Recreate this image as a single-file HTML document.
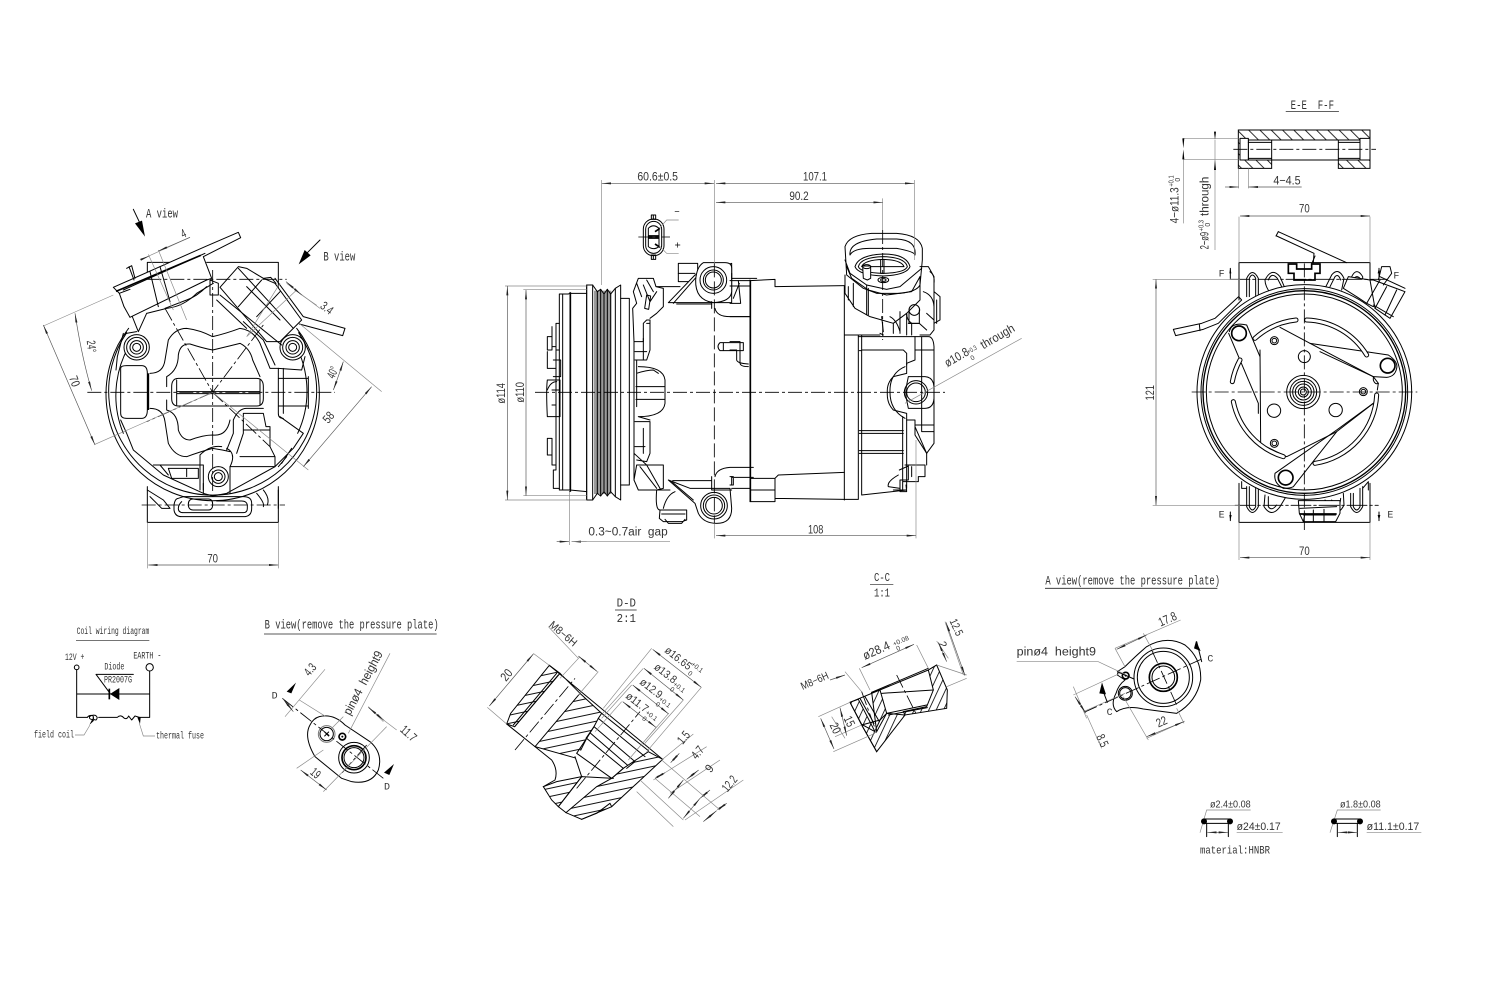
<!DOCTYPE html>
<html><head><meta charset="utf-8"><style>
html,body{margin:0;padding:0;background:#fff}
svg{display:block}
.m{fill:none;stroke:#000;stroke-width:3;stroke-linejoin:round;stroke-linecap:round}
.h{fill:none;stroke:#000;stroke-width:5}
.t{fill:none;stroke:#222;stroke-width:2}
.w{fill:#fff;stroke:#000;stroke-width:3;stroke-linejoin:round}
.d{fill:none;stroke:#888;stroke-width:2}
.da{fill:none;stroke:#555;stroke-width:2;marker-start:url(#a);marker-end:url(#a)}
.ar{fill:none;stroke:#555;stroke-width:2;marker-end:url(#a)}
.c{fill:none;stroke:#000;stroke-width:2.5;stroke-dasharray:42 9 9 9}
.b{fill:#000;stroke:none}
text{fill:#333;font-family:"Liberation Sans",sans-serif;font-size:37px;white-space:pre}
.s{font-family:"Liberation Mono","Noto Serif CJK SC",monospace;font-size:40px}
</style></head><body>
<svg width="1500" height="990" viewBox="0 0 1500 990" xmlns="http://www.w3.org/2000/svg">
<defs>
<marker id="a" markerUnits="userSpaceOnUse" markerWidth="30" markerHeight="12" refX="28" refY="5" orient="auto-start-reverse"><path d="M0 2L28 5L0 8Z" fill="#222"/></marker>
<pattern id="hA" width="24" height="24" patternUnits="userSpaceOnUse" patternTransform="rotate(-12)"><rect width="24" height="3" fill="#111"/></pattern>
<pattern id="hC" width="20" height="20" patternUnits="userSpaceOnUse" patternTransform="rotate(25)"><rect width="2.6" height="20" fill="#111"/></pattern>
<pattern id="hD" width="24" height="24" patternUnits="userSpaceOnUse" patternTransform="rotate(-45)"><rect width="2.6" height="24" fill="#111"/></pattern>
</defs>

<!-- LEFT VIEW -->
<g transform="translate(30 200) scale(.33333)">
<path class="m" d="M352 187V245M352 860V967H745V860M745 187V270M530 187H745M352 187H430"/>
<path class="m" d="M800 385A320 320 0 1 1 296 385M806 398A312 312 0 1 1 290 398M785 415A298 298 0 0 1 803 700M312 415A298 298 0 0 0 280 700"/>
<path class="m" d="M280 400L262 470L258 510M272 660L290 700L310 750L400 825L520 880L548 888L590 880L735 800L790 745L820 700L750 650M745 505L815 510L825 470"/>
<path class="m" d="M272 505Q272 497 290 497H335Q352 497 352 520V630Q352 655 335 655H290Q272 655 272 640Z"/>
<path class="h" d="M355 520V630"/>
<path class="m" d="M745 505V640Q745 655 760 655M760 505V640M745 535H835M745 618H835M835 530V625"/>
<path class="m" d="M425 560Q425 535 445 535H680Q700 535 700 560V595Q700 618 680 618H445Q425 618 425 595Z"/>
<path class="m" d="M440 575H690M440 581H690M440 540V615M690 540V615"/>
<path class="m" d="M360 520Q400 520 405 480L415 420Q435 385 470 385Q510 390 548 410Q590 400 630 385Q670 390 690 430L720 505H745"/>
<path class="m" d="M410 560V530Q445 510 445 465Q450 430 480 432Q520 445 548 450Q590 440 630 430Q660 445 668 480L690 530"/>
<path class="m" d="M360 625Q400 625 405 665L415 730Q435 770 470 770Q510 755 548 745Q580 750 600 755"/>
<path class="m" d="M410 600V630Q445 640 445 690Q455 720 480 720Q520 705 548 705Q590 710 600 660"/>
<path class="m" d="M640 640H700L708 680H720V740L735 770V800M640 640V700L620 760M610 660Q625 625 650 625H700M610 660V700L590 750M640 690H720M630 770H735"/>
<path class="m" d="M370 795H520V870M600 800H735M510 765V870M600 800Q620 760 590 745M510 765Q540 735 575 740"/>
<path class="m" d="M415 805H505V835H425ZM470 805V830M390 795L415 825"/>
<circle class="w" cx="565" cy="830" r="30"/><circle class="m" cx="565" cy="830" r="20"/><circle class="m" cx="565" cy="830" r="12"/>
<path class="m" d="M520 880V850M600 880V800"/>
<path class="m" d="M445 895Q435 895 432 915V930Q435 950 455 950H640Q665 950 665 925V910Q665 890 640 890H460Z"/>
<path class="m" d="M455 905Q445 915 445 925Q445 938 460 938H640Q652 938 652 925V915Q650 903 635 903H560"/>
<path class="m" d="M490 897H535Q548 897 548 913Q548 930 535 930H490Q475 930 475 913Q475 897 490 897Z"/>
<path class="m" d="M352 870L400 900L420 925L395 925L360 890M680 880Q705 910 700 920M700 870Q720 895 712 915M745 870V925"/>
<path class="m" d="M770 770L745 800M785 745L755 790"/>
<circle class="w" cx="320" cy="442" r="38"/><circle class="m" cx="320" cy="442" r="30"/><circle class="m" cx="320" cy="442" r="20"/><circle class="m" cx="320" cy="442" r="12"/>
<circle class="w" cx="788" cy="442" r="38"/><circle class="m" cx="788" cy="442" r="30"/><circle class="m" cx="788" cy="442" r="20"/><circle class="m" cx="788" cy="442" r="12"/>
<path class="m" d="M320 395L290 400M350 340L325 395L305 345M350 340L410 325Q460 320 500 280L550 250"/>
<path class="m" d="M405 325L470 300Q500 290 530 260"/>
<!-- connector A -->
<path class="w" d="M250 262L525 140L625 97L632 113L520 170L545 235L530 240L300 352L282 320L268 280Z"/>
<path class="h" d="M258 274L512 166"/><path class="m" d="M280 270L525 160M268 280L300 268M360 215L385 320M390 200L420 305"/>
<path class="m" d="M297 200L312 240M290 205L305 197L315 235"/>
<path class="m" d="M540 240V285H565V250Z"/>
<!-- connector B -->
<path class="w" d="M570 262L625 200L650 205L700 235L735 250L815 360L750 425L710 425Z"/>
<path class="m" d="M735 235L820 350L945 385L938 407L808 372M625 205L790 385M650 260L750 360M570 285L755 435M640 365L700 420L735 495M560 300L650 385M700 235L722 232L738 250"/>
<path class="m" d="M625 320L695 240M680 350L750 275"/>
<!-- center lines -->
<path class="c" d="M172 577H915M548 210V880M352 238H770M335 915H765M405 325L548 577L700 375M548 577L350 665M548 577L720 740"/>
<path class="d" d="M352 967V1105M745 967V1105M40 378L250 285M195 733L548 577M810 372L1055 575M548 577L835 810M330 180L480 112M355 163L430 330M385 150L470 360M770 250L870 325M800 270L650 410M650 410L750 250"/>
<path class="da" d="M355 1095H745"/><path class="da" d="M1025 560L820 800"/><path class="da" d="M40 375L195 735"/>
<path class="da" d="M135 340Q155 470 185 572"/><path class="da" d="M940 485Q925 530 910 570"/>
<path class="ar" d="M330 180L358 168"/><path class="ar" d="M480 112L385 153"/>
<path class="da" d="M768 245L815 285"/><path class="d" d="M815 285L860 316"/>
<text x="548" y="1088" text-anchor="middle" textLength="32" lengthAdjust="spacingAndGlyphs">70</text>
<text transform="translate(905 660) rotate(-50)" text-anchor="middle" textLength="32" lengthAdjust="spacingAndGlyphs">58</text>
<text transform="translate(122 548) rotate(70)" text-anchor="middle" textLength="32" lengthAdjust="spacingAndGlyphs">70</text>
<text transform="translate(172 440) rotate(85)" text-anchor="middle" textLength="36" lengthAdjust="spacingAndGlyphs">24°</text>
<text transform="translate(912 538) rotate(-65)" textLength="34" lengthAdjust="spacingAndGlyphs">40°</text>
<text transform="translate(465 112) rotate(-24)" text-anchor="middle" textLength="14" lengthAdjust="spacingAndGlyphs">4</text>
<text transform="translate(868 322) rotate(38)" textLength="38" lengthAdjust="spacingAndGlyphs">3.4</text>
<path class="m" d="M310 28L330 70"/><path class="b" d="M315 70L336 62L345 110Z"/>
<path class="m" d="M870 120L832 158"/><path class="b" d="M806 193L824 150L842 166Z"/>
<text class="s" x="348" y="52" textLength="96" lengthAdjust="spacingAndGlyphs">A view</text>
<text class="s" x="880" y="182" textLength="96" lengthAdjust="spacingAndGlyphs">B view</text>
</g>

<!-- SIDE VIEW -->
<g transform="translate(490 160) scale(.33333)">
<!-- pulley -->
<rect x="312" y="392" width="52" height="610" fill="#9a9a9a"/>
<path class="m" d="M290 375H308L322 395L332 388L342 402L352 388L362 402L376 385L392 375V1020L376 1010L362 995L352 1008L342 995L332 1008L322 1000L308 1020H290Z"/>
<path class="m" d="M290 375V1020M308 375V1020M322 395V1000M332 388V1008M342 400V995M352 388V1008M362 400V995M376 385V1010"/>
<path class="m" d="M392 415H418V975H392M418 425V970M432 545V960"/>
<path class="m" d="M290 400H240L235 402H208V990H240L290 995"/>
<path class="m" d="M218 402V990M240 397V995"/><path class="h" d="M241 397V995"/>
<path class="m" d="M208 490H198V570H208M198 490V930H190V985H208M186 500V560H198M172 530V570H186V530ZM172 575V625H198V575M190 600H212V650H190M172 660H210V770H172Q168 690 172 660ZM172 835H186V885H172ZM186 690H208M186 735H198"/>
<path class="m" d="M172 690Q182 665 200 665M186 880V915H198"/>
<!-- front housing left -->
<path class="m" d="M432 545H460V490L470 480H480V490L470 490M432 545L428 445L440 430L430 395L445 355H490L498 380L520 385V440L500 460L480 475M460 375L480 425L500 395"/>
<path class="m" d="M464 445L470 405L482 408L476 448Z"/><path class="m" d="M500 380H570"/>
<path class="m" d="M440 370L455 410M470 360L490 395"/>
<path class="m" d="M480 490V570L470 600L435 600M460 535V600M435 575H470M440 600V740M445 620Q520 620 525 660V730Q520 770 445 770M440 640Q470 630 490 630L505 640M438 680H525M438 718H525M445 770L480 780M435 785H480V815M480 785V880L470 905L440 900M460 805V880M435 860H465M432 880L470 915"/>
<path class="m" d="M432 960L440 915L470 915H520V985L500 990L445 990ZM450 920L500 985M470 915L510 985"/>
<!-- bottom pipe -->
<path class="m" d="M500 990Q495 1050 510 1050M520 1045Q530 1005 555 995M510 1050H590V1080L575 1085H520L508 1075ZM525 1078L535 1090H575L585 1078M515 1062H585"/>
<!-- top bracket / ear -->
<rect class="w" x="565" y="310" width="58" height="55"/>
<path class="m" d="M565 340H615"/>
<path class="w" d="M535 428L615 345L725 310V428H600Z"/>
<path class="m" d="M550 430L620 350M560 432H665"/>
<path class="w" d="M640 308H705Q725 308 725 325V395Q722 425 670 428Q615 420 617 360Q620 320 640 308Z"/>
<circle class="m" cx="670" cy="360" r="40"/><circle class="m" cx="670" cy="360" r="30"/><circle class="m" cx="670" cy="360" r="24"/>
<path class="m" d="M725 355H800M665 425V445M675 445Q680 470 720 470H780M725 340V358M745 362L752 430H720M748 370L730 415"/>
<!-- bottom ear -->
<path class="w" d="M535 960L615 1030L625 1060Q640 1090 680 1090Q725 1090 725 1045L720 985H600Z"/>
<circle class="m" cx="672" cy="1037" r="40"/><circle class="m" cx="672" cy="1037" r="32"/><circle class="m" cx="672" cy="1037" r="25"/>
<path class="m" d="M548 962H665V990H725M665 950V990M675 950Q680 925 720 922H790M725 952H790M725 985H780M545 965L610 1020M500 990H540M725 950V975"/>
<path class="m" d="M690 548H760V572H690Q678 560 690 548ZM700 548V572"/>
<g transform="translate(720 0)">
<path class="m" d="M0 362H60M60 360V1025M60 362L135 358V380M135 380L345 377M0 378H60M0 470H60"/>
<path class="h" d="M61 360V1025"/>
<path class="m" d="M0 545H30V610Q32 620 55 620M0 570H20V600Q22 610 55 612M60 1025H135V955L145 945L343 937M135 1025V1015L343 1018M60 955H135M60 990H135M10 955V975H0M0 950H10"/>
<path class="m" d="M343 378V1020M343 525H450M385 525V1018M343 1018H385"/>
<path class="m" d="M395 525V570H520L530 580V615M395 570V1005L530 990M388 572H395M388 812H520M388 872H520M388 820H520M388 880H520"/>
<path class="m" d="M385 530H555V600L530 610V640L490 650Q470 670 472 697Q470 730 490 750L530 760V780H555V800L590 880V915"/>
<path class="m" d="M525 620Q478 640 480 697Q480 750 525 775M518 770V990M530 780V985"/>
<path class="w" d="M535 650H585Q610 652 612 680V715Q610 745 585 745H535L530 720Q525 697 530 675Z"/>
<circle class="m" cx="558" cy="697" r="35"/><circle class="m" cx="558" cy="697" r="28"/>
<path class="m" d="M555 530H595Q610 530 612 560V850L590 880M555 570H612M575 530V815H612M555 795H612M555 825L590 880M555 800L555 825"/>
<path class="m" d="M525 915H585V950H565V965H520M508 930L535 918V960H510M505 945Q470 965 475 980L510 985M510 960V995H530L528 975M490 990H530M545 920V950"/>
<!-- top connector -->
<path class="w" d="M345 260Q355 225 425 220H500Q570 225 577 265V300L570 375Q560 395 510 400H440L400 385L350 345Z"/>
<path class="m" d="M360 285Q355 245 440 237H500Q560 240 555 285Q555 275 500 265H420Q370 265 360 285"/>
<path class="m" d="M375 320Q385 285 460 282Q530 282 540 320Q530 345 460 348Q385 345 375 320Z"/>
<path class="m" d="M385 320Q392 292 460 290Q525 292 532 320Q525 338 460 340Q392 338 385 320Z"/>
<path class="m" d="M395 320Q402 300 460 298Q515 300 522 320H395M452 300V340H462V300"/>
<path class="w" d="M398 318H422V355L412 360L400 355Z"/><ellipse class="m" cx="410" cy="320" rx="12" ry="6"/>
<ellipse class="m" cx="460" cy="360" rx="16" ry="8"/><ellipse class="m" cx="460" cy="360" rx="8" ry="4"/>
<path class="m" d="M345 300L360 340L410 375L470 388L510 380L575 325M350 320L365 355L415 390L470 405L545 395L570 350"/>
<path class="m" d="M345 345L345 400L375 445L420 470L490 490L530 460L570 420V350M355 380V420M370 370V440M410 375V465M415 385V465M490 490V520M530 460V525"/>
<path class="m" d="M570 320H595L612 350V510L600 525L570 525M600 335Q615 345 612 370M580 395Q610 405 612 440M612 395L630 410V480L612 490M590 460L612 480M545 525V490Q530 480 530 460M620 420V490"/>
<path class="m" d="M455 470L460 515M480 470Q500 480 510 515M510 455V520"/>
<circle class="m" cx="553" cy="450" r="16"/><path class="m" d="M537 450V490H568V450"/>
<path class="m" d="M535 490H568L590 510M450 520L460 525"/>
<path class="d" d="M458 115V210"/><path class="c" d="M458 210V540"/>
<path class="d" d="M553 60V300M558 840V1135"/>
<path class="d" d="M525 730L875 535"/>
<path class="ar" d="M0 70H553"/><path class="ar" d="M0 127H458"/><path class="ar" d="M0 1127H558"/>
<text x="255" y="62" text-anchor="middle" textLength="72" lengthAdjust="spacingAndGlyphs">107.1</text>
<text x="207" y="120" text-anchor="middle" textLength="58" lengthAdjust="spacingAndGlyphs">90.2</text>
<text x="257" y="1120" text-anchor="middle" textLength="46" lengthAdjust="spacingAndGlyphs">108</text>
<text transform="translate(652 622) rotate(-30)" textLength="78" lengthAdjust="spacingAndGlyphs">ø10.8</text>
<text transform="translate(716 582) rotate(-30)" style="font-size:20px" textLength="30" lengthAdjust="spacingAndGlyphs">+0.3</text>
<text transform="translate(726 602) rotate(-30)" style="font-size:20px">0</text>
<text transform="translate(760 568) rotate(-30)" textLength="112" lengthAdjust="spacingAndGlyphs">through</text>
</g>
<path class="c" d="M135 697H1365"/>
<path class="d" d="M673 60V310M673 1090V1135"/><path class="c" d="M673 310V1090" style="stroke-dasharray:42 12"/>
<path class="d" d="M335 60V375"/><path class="d" d="M45 378H290M45 1020H290M100 388H290M100 1007H290M238 990V1155"/>
<path class="da" d="M335 70H672"/><path class="ar" d="M720 70H678"/><path class="ar" d="M720 127H678"/><path class="ar" d="M720 1127H678"/>
<path class="da" d="M52 378V1020"/><path class="da" d="M108 390V1007"/>
<path class="ar" d="M200 1145H237"/><path class="ar" d="M290 1145H245"/><path class="d" d="M245 1145H540"/>
<text x="503" y="62" text-anchor="middle" textLength="122" lengthAdjust="spacingAndGlyphs">60.6±0.5</text>
<text x="295" y="1127" textLength="238" lengthAdjust="spacingAndGlyphs">0.3~0.7air  gap</text>
<text transform="translate(45 700) rotate(-90)" text-anchor="middle" textLength="62" lengthAdjust="spacingAndGlyphs">ø114</text>
<text transform="translate(102 697) rotate(-90)" text-anchor="middle" textLength="62" lengthAdjust="spacingAndGlyphs">ø110</text>
<!-- small connector -->
<path class="m" d="M490 165V178M490 285V298M484 165H497V178H484ZM484 285H497V298H484Z"/>
<rect class="m" x="460" y="177" width="62" height="110" rx="30"/><rect class="m" x="467" y="184" width="48" height="96" rx="24"/>
<path class="m" d="M475 205V260Q490 272 507 260V205Q490 190 475 205Z"/>
<path class="h" d="M474 228H508M474 234H508"/><path class="h" d="M495 215L510 205M495 252L510 262"/>
<path class="c" d="M445 231H540"/>
<path class="d" d="M508 205L530 180H566M508 258L530 280H566"/>
<path class="m" d="M555 155H567M556 255H570M563 248V262" style="stroke-width:2"/>
</g>

<!-- RIGHT VIEW -->
<g transform="translate(1140 90) scale(.33333)">
<!-- section E-E -->
<path d="M295 120H690V235H595V210H660V150H325V210H395V235H295Z" fill="url(#hD)" stroke="#000" stroke-width="3"/>
<rect class="w" x="300" y="145" width="25" height="65"/><rect class="w" x="660" y="145" width="30" height="65"/>
<path class="m" d="M395 150V210M595 150V210M395 210H595M395 150H595M325 157H395M595 157H660M325 205H395M595 205H660"/>
<path class="c" d="M280 178H708"/>
<path class="d" d="M130 145H295M130 208H295M225 150V480M296 235V295M325 235V295M130 208V400"/>
<path class="b" d="M127 145L133 145L130 175ZM127 208L133 208L130 178Z"/>
<path class="b" d="M222 125L228 125L225 150ZM222 240L228 240L225 210Z"/>
<path class="ar" d="M255 291H296"/><path class="ar" d="M485 291H326"/>
<text x="400" y="284" textLength="82" lengthAdjust="spacingAndGlyphs">4−4.5</text>
<text transform="translate(116 400) rotate(-90)" textLength="108" lengthAdjust="spacingAndGlyphs">4−ø11.3</text>
<text transform="translate(100 290) rotate(-90)" style="font-size:21px" textLength="34" lengthAdjust="spacingAndGlyphs">+0.1</text>
<text transform="translate(120 275) rotate(-90)" style="font-size:21px">0</text>
<text transform="translate(206 478) rotate(-90)" textLength="52" lengthAdjust="spacingAndGlyphs">2−ø9</text>
<text transform="translate(190 424) rotate(-90)" style="font-size:21px" textLength="34" lengthAdjust="spacingAndGlyphs">+0.3</text>
<text transform="translate(210 410) rotate(-90)" style="font-size:21px">0</text>
<text transform="translate(206 378) rotate(-90)" textLength="118" lengthAdjust="spacingAndGlyphs">through</text>
<text class="s" x="452" y="57" textLength="130" lengthAdjust="spacingAndGlyphs">E-E  F-F</text>
<path class="m" d="M438 64H596" style="stroke-width:2"/>
<!-- lugs -->
<path class="m" d="M297 630V518H690V600M297 1180V1297H690V1180"/>
<g class="m">
<path d="M320 620V565Q337 530 355 565V620M328 620V565Q337 545 347 565V620"/>
<path d="M375 570Q395 530 420 560L435 595L395 615Q375 590 375 570ZM385 570Q395 545 412 565L425 590"/>
<path d="M555 595L575 555Q595 530 612 565L605 600M570 590L585 560Q595 550 602 570"/>
<path d="M635 590V560Q650 530 668 560V590M643 590V565Q650 555 660 565V590"/>
<path d="M320 1190V1250Q337 1285 355 1250V1190M328 1190V1250Q337 1270 347 1250V1190M305 1175V1195H320"/>
<path d="M375 1215L372 1250Q395 1285 420 1250L435 1225M385 1220L385 1250Q395 1265 410 1245"/>
<path d="M555 1230L575 1255Q595 1280 612 1245L610 1210M575 1230L590 1250Q600 1250 602 1225"/>
<path d="M632 1210V1250Q650 1285 668 1250V1190M640 1210V1250Q650 1270 660 1250V1195M668 1195L685 1175V1200"/>
</g>
<path class="h" d="M445 522H470V537H515V522H540V550H525V570H462V550H445Z"/>
<path class="m" d="M515 522L525 498"/>
<circle class="w" cx="493" cy="906" r="322"/>
<circle class="m" cx="493" cy="906" r="310"/><circle class="m" cx="493" cy="906" r="304" style="stroke-width:4"/><circle class="m" cx="493" cy="906" r="294"/>
<!-- tab left -->
<path class="m" d="M100 718L185 700L225 685L296 620L305 630L235 700L190 718L107 737Z"/>
<path class="m" d="M178 703L180 722"/>
<!-- tab top -->
<path class="m" d="M415 425L620 518M410 438L522 490L520 518"/>
<path class="m" d="M415 425L408 438"/>
<!-- connector right -->
<path class="w" d="M625 560L690 570L725 590L745 610L700 650L680 640L650 620L610 595Z"/>
<path class="w" d="M690 570L700 570L795 605L750 685L705 655Z"/>
<path class="m" d="M715 570L725 530L750 530L755 550L730 585M720 560L795 595M700 645L760 680M740 590L705 655M770 600L735 675M680 640L720 570"/>
<!-- plate -->
<path class="m" d="M420 712L510 760L700 860L715 880L712 900M700 940L590 1025L440 1100L362 1062L360 780"/>
<path class="m" d="M700 860V870Q705 885 715 880"/>
<path class="m" d="M266 730L355 940V970M320 705L360 800M268 725Q275 695 320 705"/>
<circle class="h" cx="297" cy="730" r="22" style="fill:#fff"/>
<path class="m" d="M510 760L745 795Q775 815 770 835Q765 860 740 862L700 860L540 785"/>
<circle class="h" cx="743" cy="827" r="22" style="fill:#fff"/>
<path class="m" d="M405 1150L590 1020L700 940M405 1150Q400 1180 430 1195Q450 1195 460 1190L590 1025"/>
<circle class="h" cx="437" cy="1163" r="22" style="fill:#fff"/>
<path d="M500 690A218 218 0 0 1 680 795" fill="none" stroke="#000" stroke-width="15" stroke-linecap="round"/><path d="M500 690A218 218 0 0 1 680 795" fill="none" stroke="#fff" stroke-width="9" stroke-linecap="round"/>
<path d="M468 690A218 218 0 0 0 345 745" fill="none" stroke="#000" stroke-width="15" stroke-linecap="round"/><path d="M468 690A218 218 0 0 0 345 745" fill="none" stroke="#fff" stroke-width="9" stroke-linecap="round"/>
<path d="M300 810A218 218 0 0 0 277 875" fill="none" stroke="#000" stroke-width="15" stroke-linecap="round"/><path d="M300 810A218 218 0 0 0 277 875" fill="none" stroke="#fff" stroke-width="9" stroke-linecap="round"/>
<path d="M280 935A218 218 0 0 0 430 1100" fill="none" stroke="#000" stroke-width="15" stroke-linecap="round"/><path d="M280 935A218 218 0 0 0 430 1100" fill="none" stroke="#fff" stroke-width="9" stroke-linecap="round"/>
<path d="M525 1120A218 218 0 0 0 710 915" fill="none" stroke="#000" stroke-width="15" stroke-linecap="round"/><path d="M525 1120A218 218 0 0 0 710 915" fill="none" stroke="#fff" stroke-width="9" stroke-linecap="round"/>
<circle class="m" cx="493" cy="800" r="18"/><circle class="m" cx="402" cy="962" r="20"/><circle class="m" cx="587" cy="960" r="20"/>
<g class="m"><circle cx="403" cy="752" r="12"/><circle cx="403" cy="752" r="7"/><circle cx="403" cy="1060" r="12"/><circle cx="403" cy="1060" r="7"/><circle cx="670" cy="905" r="12"/><circle cx="670" cy="905" r="7"/>
<circle cx="490" cy="906" r="50"/><circle cx="490" cy="906" r="40"/><circle cx="490" cy="906" r="24"/><circle cx="490" cy="906" r="15"/><circle cx="490" cy="906" r="9"/><circle cx="490" cy="906" r="32"/></g>
<!-- bottom hex -->
<path class="w" d="M475 1232H600V1270L587 1295H490L478 1270Z" style="fill:#fff"/>
<path class="m" d="M480 1255L590 1250M490 1275H587M520 1260V1295M552 1258V1295M490 1295L495 1270"/>
<path class="h" d="M478 1272H590"/>
<path class="c" d="M155 906H832M493 520V1320"/>
<path class="m" d="M270 568H740M285 1246H715" style="stroke-width:2.5;stroke-dasharray:60 8 8 8"/>
<path class="d" d="M38 568H300M38 1246H300M297 1297V1410M690 1297V1410M297 518V380M690 518V380"/>
<path class="da" d="M48 568V1246"/><path class="da" d="M300 378H690"/><path class="da" d="M300 1403H690"/>
<text transform="translate(42 908) rotate(-90)" text-anchor="middle" textLength="46" lengthAdjust="spacingAndGlyphs">121</text>
<text x="493" y="368" text-anchor="middle" textLength="32" lengthAdjust="spacingAndGlyphs">70</text>
<text x="493" y="1395" text-anchor="middle" textLength="32" lengthAdjust="spacingAndGlyphs">70</text>
<text class="s" x="236" y="560" style="font-size:30px">F</text><text class="s" x="760" y="565" style="font-size:30px">F</text>
<text class="s" x="236" y="1282" style="font-size:30px">E</text><text class="s" x="742" y="1282" style="font-size:30px">E</text>
<path class="b" d="M268 550L274 550L271 533ZM713 550L721 550L717 533Z"/>
<path class="m" d="M271 535V565M717 535V565"/>
<path class="b" d="M268 1275L275 1275L271 1292Z"/><path class="m" d="M271 1266V1292M717 1266V1292"/>
<path class="b" d="M713 1275L721 1275L717 1292Z"/>
</g>

<!-- COIL + B VIEW -->
<g transform="translate(30 610) scale(.33333)">
<text class="s" x="140" y="72" style="font-size:30px" textLength="218" lengthAdjust="spacingAndGlyphs">Coil wiring diagram</text>
<path class="t" d="M138 91H358"/>
<text class="s" x="105" y="150" style="font-size:29px" textLength="58" lengthAdjust="spacingAndGlyphs">12V +</text>
<text class="s" x="310" y="146" style="font-size:29px" textLength="84" lengthAdjust="spacingAndGlyphs">EARTH -</text>
<text class="s" x="223" y="178" style="font-size:29px" textLength="60" lengthAdjust="spacingAndGlyphs">Diode</text>
<text class="s" x="222" y="218" style="font-size:29px" textLength="84" lengthAdjust="spacingAndGlyphs">PR2007G</text>
<circle class="m" cx="140" cy="172" r="7"/><circle class="m" cx="359" cy="172" r="11"/>
<path class="m" d="M140 180V322H172M359 183V322H328M140 252H359M310 193H198L240 250"/>
<path class="b" d="M268 234V270L240 252Z"/><path class="h" d="M238 236V268"/>
<path class="m" d="M172 322Q176 316 184 316Q192 316 190 328Q178 330 178 320Q186 314 196 316Q206 322 198 330Q188 330 190 320M206 322H262Q272 312 282 324Q290 330 296 318L305 330L315 318L328 322"/>
<path class="b" d="M178 345L188 325L192 332Z"/><path class="b" d="M322 322L332 322L330 342Z"/>
<path class="d" d="M135 375H162L180 345M375 378H340L328 340"/>
<text class="s" x="12" y="382" style="font-size:30px" textLength="120" lengthAdjust="spacingAndGlyphs">field coil</text>
<text class="s" x="378" y="386" style="font-size:30px" textLength="144" lengthAdjust="spacingAndGlyphs">thermal fuse</text>
<text class="s" x="704" y="55" textLength="522" lengthAdjust="spacingAndGlyphs">B view(remove the pressure plate)</text>
<path class="t" d="M702 72H1220" style="stroke-width:2.5"/>
<path class="m" d="M868 320Q910 310 945 345L1020 395Q1060 430 1045 480Q1025 525 965 515L935 505L855 440Q820 380 840 345Q850 325 868 320Z"/>
<circle class="m" cx="890" cy="372" r="20"/><circle class="m" cx="890" cy="372" r="25" style="stroke:#777"/>
<path class="m" d="M884 366L896 378M896 366L884 378"/>
<circle class="h" cx="937" cy="380" r="10"/><circle cx="937" cy="380" r="3" fill="#000"/>
<circle class="m" cx="972" cy="443" r="46"/><circle class="m" cx="972" cy="443" r="30"/>
<circle class="h" cx="972" cy="443" r="36"/>
<path class="c" d="M757 265L1060 505M1010 405L935 490"/>
<path class="d" d="M885 178L765 320M808 270L888 320M1080 130L955 370M940 320L905 355M1070 350L880 545M1015 290L1060 335M880 420L800 475"/>
<path class="da" d="M758 265L790 305"/><path class="da" d="M1015 292L1063 332"/><path class="d" d="M1063 332L1100 360"/><path class="da" d="M812 480L890 540"/>
<path class="b" d="M770 245L798 218L784 250Z"/><path class="b" d="M1062 488L1092 462L1078 495Z"/>
<text class="s" x="725" y="265" style="font-size:30px">D</text><text class="s" x="1062" y="538" style="font-size:30px">D</text>
<text transform="translate(832 195) rotate(-50)" x="0" y="8" textLength="36" lengthAdjust="spacingAndGlyphs">4.3</text>
<text transform="translate(1108 362) rotate(42)" textLength="52" lengthAdjust="spacingAndGlyphs">11.7</text>
<text transform="translate(838 490) rotate(40)" textLength="28" lengthAdjust="spacingAndGlyphs">19</text>
<text transform="translate(960 318) rotate(-62)" textLength="212" lengthAdjust="spacingAndGlyphs">pinø4  height9</text>
</g>

<!-- D-D -->
<g transform="translate(480 590) scale(.33333)">
<text class="s" x="410" y="50" style="font-size:37px" textLength="58" lengthAdjust="spacingAndGlyphs">D-D</text>
<path class="t" d="M405 60H470"/>
<text class="s" x="410" y="96" style="font-size:37px" textLength="58" lengthAdjust="spacingAndGlyphs">2:1</text>
<path d="M80 402L92 370L208 226L240 250L104 410Z" fill="url(#hA)" stroke="#000" stroke-width="3"/>
<path d="M165 470L300 310L365 370L355 385L342 410L320 445L290 505L165 470Z" fill="url(#hA)" stroke="#000" stroke-width="3"/>
<path d="M285 505L300 480L330 510L300 550L225 530Z" fill="#fff"/>
<path d="M190 590L230 575L305 560L235 650L215 630Z" fill="url(#hA)" stroke="#000" stroke-width="3"/>
<path d="M258 668L350 590L395 565L430 535L505 485L548 508L395 650L305 688Z" fill="url(#hA)" stroke="#000" stroke-width="3"/>
<path class="m" d="M208 226L548 508M80 402L165 470L215 510Q235 540 225 570L190 590M240 250L300 310M104 410L235 255M100 405L230 250M285 500L305 560M305 560L400 565M320 445L430 535M332 430L442 525M342 410L465 515M355 385L495 500M365 370L505 482M290 490L395 565M320 445L290 490M258 668L235 650L305 560M430 535L395 565M342 410L318 445M465 515L440 535"/>
<path class="c" d="M105 480L285 265M290 595L480 365"/>
<path class="m" d="M395 650L390 640L350 670L305 688"/>
<path class="d" d="M22 352L80 402M160 190L208 226M515 175L370 355M490 235L368 370M455 285L365 385M425 335L345 425M664 292L500 485M610 330L490 465M566 370L470 480M530 410L445 510M640 432L545 510M680 470L520 570M720 510L570 610M790 570L615 690M300 200L240 265M355 245L295 315M205 110L295 205"/>
<path class="da" d="M160 192L28 348"/><path class="da" d="M295 198L352 245"/>
<path class="da" d="M518 178L664 292"/><path class="da" d="M492 235L610 330"/><path class="da" d="M458 285L566 372"/><path class="da" d="M428 335L528 412"/>
<path class="da" d="M598 490L572 518"/><path class="da" d="M656 540L620 568"/><path class="da" d="M690 600L660 625"/><path class="da" d="M740 640L712 660"/>
<path class="d" d="M545 510L720 660M525 565L660 680M480 570L610 690M470 605L580 710"/><path class="da" d="M555 548L525 565"/><path class="da" d="M610 570L565 625"/><path class="da" d="M660 625L610 685"/><path class="da" d="M710 662L670 695"/>
<text transform="translate(78 276) rotate(-50)" textLength="34" lengthAdjust="spacingAndGlyphs">20</text>
<text transform="translate(205 108) rotate(40)" style="font-size:33px" textLength="98" lengthAdjust="spacingAndGlyphs">M8−6H</text>
<text transform="translate(552 185) rotate(38)" style="font-size:33px" textLength="92" lengthAdjust="spacingAndGlyphs">ø16.65</text>
<text transform="translate(520 235) rotate(38)" style="font-size:33px" textLength="76" lengthAdjust="spacingAndGlyphs">ø13.8</text>
<text transform="translate(477 280) rotate(38)" style="font-size:33px" textLength="76" lengthAdjust="spacingAndGlyphs">ø12.9</text>
<text transform="translate(435 322) rotate(38)" style="font-size:33px" textLength="76" lengthAdjust="spacingAndGlyphs">ø11.7</text>
<text transform="translate(632 225) rotate(38)" style="font-size:20px">+0.1</text><text transform="translate(622 252) rotate(38)" style="font-size:20px">0</text>
<text transform="translate(578 285) rotate(38)" style="font-size:20px">+0.1</text><text transform="translate(568 300) rotate(38)" style="font-size:20px">0</text>
<text transform="translate(535 330) rotate(38)" style="font-size:20px">+0.1</text><text transform="translate(525 345) rotate(38)" style="font-size:20px">0</text>
<text transform="translate(495 370) rotate(38)" style="font-size:20px">+0.1</text><text transform="translate(485 388) rotate(38)" style="font-size:20px">0</text>
<text transform="translate(608 465) rotate(-50)" textLength="38" lengthAdjust="spacingAndGlyphs">1.5</text>
<text transform="translate(650 510) rotate(-50)" textLength="38" lengthAdjust="spacingAndGlyphs">4.7</text>
<text transform="translate(692 550) rotate(-50)" textLength="18" lengthAdjust="spacingAndGlyphs">9</text>
<text transform="translate(742 608) rotate(-50)" textLength="50" lengthAdjust="spacingAndGlyphs">12.2</text>
</g>

<!-- C-C -->
<g transform="translate(790 565) scale(.33333)">
<text class="s" x="252" y="48" style="font-size:37px" textLength="48" lengthAdjust="spacingAndGlyphs">C-C</text>
<path class="t" d="M240 58H310"/>
<text class="s" x="252" y="94" style="font-size:37px" textLength="48" lengthAdjust="spacingAndGlyphs">1:1</text>
<path d="M180 412L205 403L255 500L215 478Z" fill="url(#hC)" stroke="#000" stroke-width="3"/>
<path d="M245 382L270 375L290 445L260 500Z" fill="url(#hC)" stroke="#000" stroke-width="3"/>
<path d="M215 480L270 465L290 445L345 450L260 560Z" fill="url(#hC)" stroke="#000" stroke-width="3"/>
<path d="M415 315L440 300L472 375L470 430L345 450L340 440L410 425L430 375Z" fill="url(#hC)" stroke="#000" stroke-width="3"/>
<path class="m" d="M180 412L415 315L440 300M210 400L252 475M225 395L268 470M245 382L415 310M275 385L430 375M290 445L410 420M295 450L412 428M260 560L215 480M180 412L215 480"/>
<path class="c" d="M215 380L255 490M320 330L380 450"/>
<path class="d" d="M165 320L215 380M208 310L240 375M380 240L415 310M440 228L475 280M465 170L520 330M440 300L530 330M470 365L530 340M165 520L125 455M180 412L85 455M215 480L135 515M255 505L130 560"/>
<path class="da" d="M215 308L372 238"/><path class="ar" d="M120 345L165 330"/>
<path class="da" d="M445 232L470 290"/><path class="da" d="M468 172L525 332"/>
<path class="da" d="M150 428L170 512"/><path class="da" d="M92 460L132 552"/>
<text transform="translate(225 285) rotate(-24)" textLength="85" lengthAdjust="spacingAndGlyphs">ø28.4</text>
<text transform="translate(312 244) rotate(-24)" style="font-size:20px">+0.08</text>
<text transform="translate(322 258) rotate(-24)" style="font-size:20px">0</text>
<text transform="translate(38 375) rotate(-24)" style="font-size:32px" textLength="88" lengthAdjust="spacingAndGlyphs">M8−6H</text>
<text transform="translate(445 235) rotate(65)" style="font-size:32px">2</text>
<text transform="translate(478 168) rotate(65)" style="font-size:34px" textLength="52" lengthAdjust="spacingAndGlyphs">12.5</text>
<text transform="translate(160 460) rotate(65)" textLength="32" lengthAdjust="spacingAndGlyphs">15</text>
<text transform="translate(118 480) rotate(65)" textLength="32" lengthAdjust="spacingAndGlyphs">20</text>
</g>

<!-- A VIEW -->
<g transform="translate(1010 565) scale(.33333)">
<text class="s" x="106" y="58" textLength="524" lengthAdjust="spacingAndGlyphs">A view(remove the pressure plate)</text>
<path class="t" d="M105 70H622" style="stroke-width:2.5"/>
<path class="m" d="M345 305Q380 270 410 245Q470 210 525 240Q575 280 572 345Q560 410 500 445L400 432Q350 420 320 440Q300 420 318 385Q325 360 345 345L322 330L325 318L345 305Z"/>
<circle class="m" cx="460" cy="337" r="88"/><circle class="m" cx="460" cy="337" r="78"/>
<circle class="h" cx="460" cy="337" r="42"/><circle class="m" cx="460" cy="337" r="34"/>
<circle class="h" cx="347" cy="332" r="10"/><circle cx="347" cy="332" r="3" fill="#000"/>
<path class="m" d="M322 320L372 342"/>
<circle class="m" cx="346" cy="385" r="21"/><circle class="m" cx="346" cy="385" r="17"/>
<path class="c" d="M222 442L580 280M425 255L500 420"/>
<path class="d" d="M20 290H265L345 328M315 250L345 305M512 165L315 250M400 205L430 260M190 365L230 460M190 390L330 325M220 440L345 385M340 395L415 525M500 430L522 475M230 450L275 550M410 520L525 468"/>
<path class="da" d="M320 253L410 210"/><path class="da" d="M195 395L228 445"/><path class="da" d="M410 515L522 470"/>
<path class="m" d="M278 375L292 412M560 230L575 290"/>
<path class="b" d="M552 250L558 228L572 258Z"/><path class="b" d="M268 385L276 352L288 388Z"/>
<text class="s" x="592" y="290" style="font-size:30px">C</text><text class="s" x="290" y="450" style="font-size:30px">C</text>
<text x="20" y="272" textLength="238" lengthAdjust="spacingAndGlyphs">pinø4  height9</text>
<text transform="translate(452 185) rotate(-24)" textLength="56" lengthAdjust="spacingAndGlyphs">17.8</text>
<text transform="translate(445 488) rotate(-24)" textLength="32" lengthAdjust="spacingAndGlyphs">22</text>
<text transform="translate(258 515) rotate(65)" textLength="38" lengthAdjust="spacingAndGlyphs">8.5</text>
<!-- O-rings -->
<path class="d" d="M570 803L590 735H722M960 803L982 735H1112M680 802H818M1070 802H1234"/>
<path class="m" d="M582 762H660M582 775H660M972 762H1050M972 775H1050"/>
<circle cx="582" cy="769" r="9" fill="#000"/><circle cx="660" cy="769" r="9" fill="#000"/><circle cx="972" cy="769" r="9" fill="#000"/><circle cx="1050" cy="769" r="9" fill="#000"/>
<path class="m" d="M590 775V815M655 775V815M982 775V815M1042 775V815"/>
<path class="da" d="M592 802H654"/><path class="da" d="M984 802H1042"/>
<text x="600" y="727" style="font-size:29px" textLength="122" lengthAdjust="spacingAndGlyphs">ø2.4±0.08</text>
<text x="990" y="727" style="font-size:29px" textLength="122" lengthAdjust="spacingAndGlyphs">ø1.8±0.08</text>
<text x="680" y="795" style="font-size:33px" textLength="132" lengthAdjust="spacingAndGlyphs">ø24±0.17</text>
<text x="1070" y="795" style="font-size:33px" textLength="158" lengthAdjust="spacingAndGlyphs">ø11.1±0.17</text>
<text class="s" x="570" y="865" style="font-size:32px" textLength="210" lengthAdjust="spacingAndGlyphs">material:HNBR</text>
</g>
</svg>
</body></html>
